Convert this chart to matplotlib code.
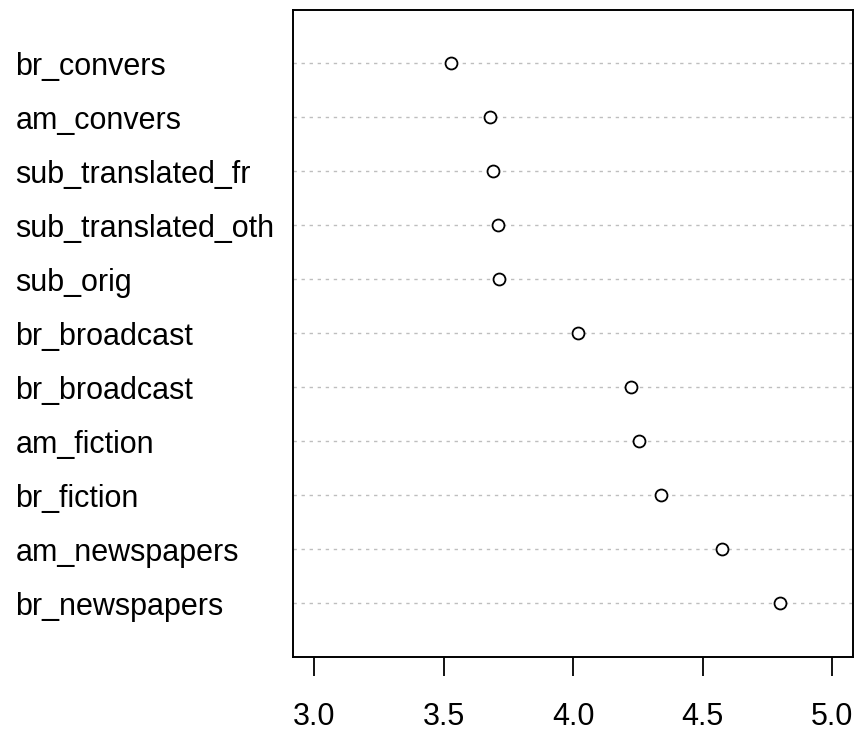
import numpy as np
import matplotlib.pyplot as plt

plt.rcParams['font.family'] = ['Liberation Sans', 'DejaVu Sans']

# mean scores per corpus, top to bottom as drawn
labels = ['br_convers', 'am_convers', 'sub_translated_fr', 'sub_translated_oth',
          'sub_orig', 'br_broadcast', 'br_broadcast', 'am_fiction', 'br_fiction',
          'am_newspapers', 'br_newspapers']
values = [3.53, 3.68, 3.69, 3.71, 3.715, 4.02, 4.225, 4.255, 4.34, 4.575, 4.80]
xticks = [3.0, 3.5, 4.0, 4.5, 5.0]

n = len(labels)
ypos = np.arange(n, 0, -1)  # first label at the top

fig = plt.figure(figsize=(8.57, 7.32), dpi=100)
ax = fig.add_axes([0.3423, 0.1025, 0.9953 - 0.3423, 0.987 - 0.1025])

for y in ypos:
    ax.axhline(y, color='#bebebe', linewidth=1.0, linestyle=(0, (2.4, 3.4)), zorder=1)

ax.plot(values, ypos, linestyle='none', marker='o', markersize=8.6,
        markerfacecolor='white', markeredgecolor='black', markeredgewidth=1.3, zorder=3)

ax.set_xlim(2.92, 5.08)
ax.set_ylim(0, n + 1)

ax.set_xticks(xticks)
ax.set_xticklabels([f'{t:.1f}' for t in xticks])
ax.tick_params(axis='x', direction='out', length=13.7, width=1.3, pad=19,
               labelsize=22, colors='black')

ax.set_yticks(ypos)
ax.set_yticklabels(labels)
ax.tick_params(axis='y', length=0, pad=200, labelsize=22)
for lab in ax.get_yticklabels():
    lab.set_horizontalalignment('left')

for sp in ax.spines.values():
    sp.set_linewidth(1.4)
    sp.set_color('black')

fig.savefig('out.png', dpi=100)
